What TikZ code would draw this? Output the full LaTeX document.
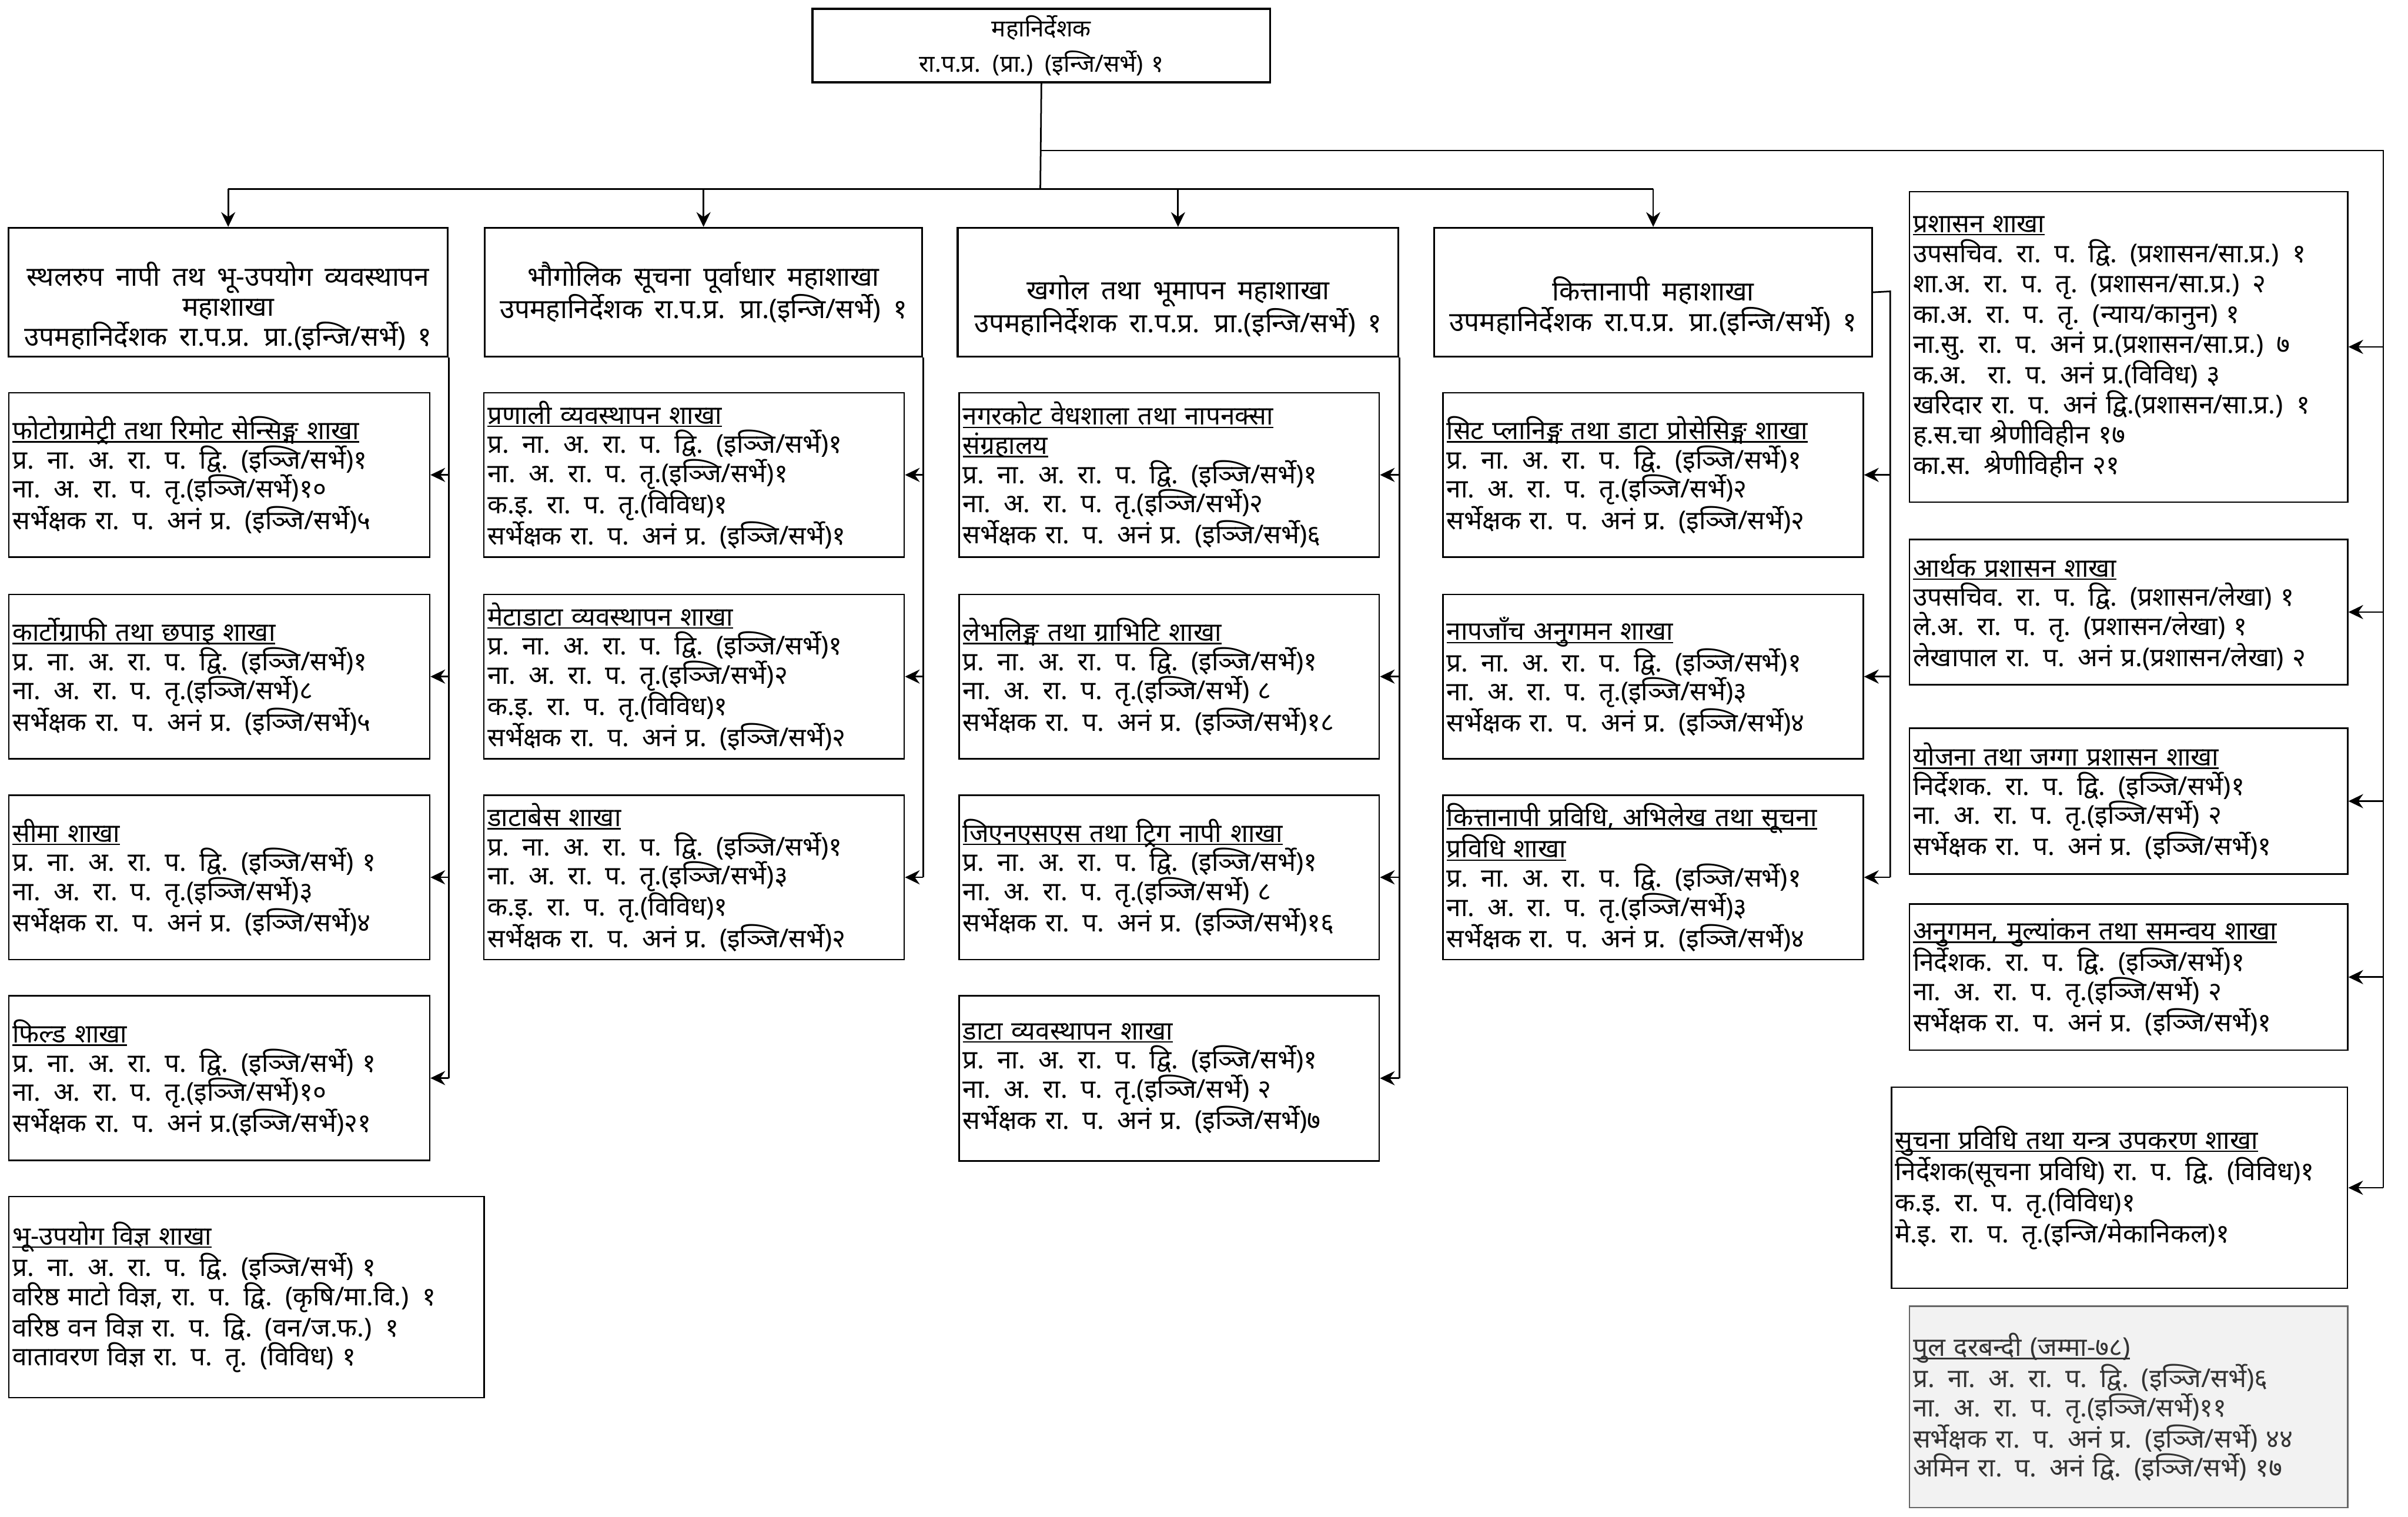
\documentclass[tikz,border=0pt]{standalone}
\usepackage{fontspec}
\setmainfont{Noto Sans}[Script=Devanagari]
\usetikzlibrary{arrows.meta}
\newsavebox\ulbox
\newcommand\ttl[1]{\leavevmode\sbox\ulbox{#1}\rlap{\rule[-0.12em]{\wd\ulbox}{0.06em}}\usebox\ulbox}
\newcommand\LI[1]{\mbox{#1}}
\newcommand\mybody{\fontsize{24}{27}\selectfont\spaceskip=0.36em\relax}
\newcommand\myrone{\fontsize{24}{28}\selectfont\spaceskip=0.36em\relax}
\newcommand\myhead{\fontsize{25}{28}\selectfont\bfseries\spaceskip=0.45em\relax}
\newcommand\mytop{\fontsize{22}{33}\selectfont}
\definecolor{poolfill}{HTML}{F2F2F2}
\definecolor{poolline}{HTML}{666666}
\definecolor{pooltext}{HTML}{333333}
\tikzset{
  sz/.style 2 args={minimum width={#1*0.05cm}, minimum height={#2*0.05cm}, text width={#1*0.05cm-0.24cm}},
  bx/.style={draw, line width=1.4pt, anchor=north west, align=left, inner xsep=0.12cm, inner ysep=0pt, font=\mybody},
  hd/.style={draw, line width=1.7pt, anchor=north west, align=center, inner xsep=0.12cm, inner ysep=0pt, font=\myhead},
  htx/.style={align=center, inner sep=0pt, font=\myhead},
  conn/.style={line width=1.5pt},
  arr/.style={line width=1.5pt, -{Stealth[length=0.48cm,width=0.46cm,inset=0.16cm]}},
}
\begin{document}
\begin{tikzpicture}[x=0.05cm,y=-0.05cm]
\useasboundingbox[fill=white] (0,0) rectangle (1568,987.45);

% top
\node[hd, sz={298}{48}, font=\mytop, line width=2pt] (top) at (528.4,5) {महानिर्देशक\\रा.प.प्र. (प्रा.) (इन्जि/सर्भे) १};

% headers
\node[hd, sz={286}{84}] (h1) at (5,147.7) {};
\node[htx] (h1t) at ([yshift=-0.45cm]h1.center) {स्थलरुप नापी तथ भू-उपयोग व्यवस्थापन\\महाशाखा\\उपमहानिर्देशक रा.प.प्र. प्रा.(इन्जि/सर्भे) १};
\node[hd, sz={285}{84}] (h2) at (315,147.7) {};
\node[htx] (h2t) at (h2.center) {भौगोलिक सूचना पूर्वाधार महाशाखा\\उपमहानिर्देशक रा.प.प्र. प्रा.(इन्जि/सर्भे) १};
\node[hd, sz={287}{84}] (h3) at (623,147.7) {};
\node[htx] (h3t) at ([yshift=-0.45cm]h3.center) {खगोल तथा भूमापन महाशाखा\\उपमहानिर्देशक रा.प.प्र. प्रा.(इन्जि/सर्भे) १};
\node[hd, sz={285}{84}] (h4) at (933.4,147.7) {};
\node[htx] (h4t) at ([yshift=-0.45cm]h4.center) {कित्तानापी महाशाखा\\उपमहानिर्देशक रा.प.प्र. प्रा.(इन्जि/सर्भे) १};

% column 1
\node[bx, sz={274}{107}] (c1a) at (5.3,255.2) {\ttl{फोटोग्रामेट्री तथा रिमोट सेन्सिङ्ग शाखा}\\\LI{प्र. ना. अ. रा. प. द्वि. (इञ्जि/सर्भे)१}\\\LI{ना. अ. रा. प. तृ.(इञ्जि/सर्भे)१०}\\\LI{सर्भेक्षक रा. प. अनं प्र. (इञ्जि/सर्भे)५}};
\node[bx, sz={274}{107}] (c1b) at (5.3,386.5) {\ttl{कार्टोग्राफी तथा छपाइ शाखा}\\\LI{प्र. ना. अ. रा. प. द्वि. (इञ्जि/सर्भे)१}\\\LI{ना. अ. रा. प. तृ.(इञ्जि/सर्भे)८}\\\LI{सर्भेक्षक रा. प. अनं प्र. (इञ्जि/सर्भे)५}};
\node[bx, sz={274}{107}] (c1c) at (5.3,517.2) {\ttl{सीमा शाखा}\\\LI{प्र. ना. अ. रा. प. द्वि. (इञ्जि/सर्भे) १}\\\LI{ना. अ. रा. प. तृ.(इञ्जि/सर्भे)३}\\\LI{सर्भेक्षक रा. प. अनं प्र. (इञ्जि/सर्भे)४}};
\node[bx, sz={274}{107}] (c1d) at (5.3,647.9) {\ttl{फिल्ड शाखा}\\\LI{प्र. ना. अ. रा. प. द्वि. (इञ्जि/सर्भे) १}\\\LI{ना. अ. रा. प. तृ.(इञ्जि/सर्भे)१०}\\\LI{सर्भेक्षक रा. प. अनं प्र.(इञ्जि/सर्भे)२१}};
\node[bx, sz={309.6}{131}] (c1e) at (5.2,778.5) {\ttl{भू-उपयोग विज्ञ शाखा}\\\LI{प्र. ना. अ. रा. प. द्वि. (इञ्जि/सर्भे) १}\\\LI{वरिष्ठ माटो विज्ञ, रा. प. द्वि. (कृषि/मा.वि.) १}\\\LI{वरिष्ठ वन विज्ञ रा. प. द्वि. (वन/ज.फ.) १}\\\LI{वातावरण विज्ञ रा. प. तृ. (विविध) १}};

% column 2
\node[bx, sz={273.7}{107}] (c2a) at (314.6,255.2) {\ttl{प्रणाली व्यवस्थापन शाखा}\\\LI{प्र. ना. अ. रा. प. द्वि. (इञ्जि/सर्भे)१}\\\LI{ना. अ. रा. प. तृ.(इञ्जि/सर्भे)१}\\\LI{क.इ. रा. प. तृ.(विविध)१}\\\LI{सर्भेक्षक रा. प. अनं प्र. (इञ्जि/सर्भे)१}};
\node[bx, sz={273.7}{107}] (c2b) at (314.6,386.5) {\ttl{मेटाडाटा व्यवस्थापन शाखा}\\\LI{प्र. ना. अ. रा. प. द्वि. (इञ्जि/सर्भे)१}\\\LI{ना. अ. रा. प. तृ.(इञ्जि/सर्भे)२}\\\LI{क.इ. रा. प. तृ.(विविध)१}\\\LI{सर्भेक्षक रा. प. अनं प्र. (इञ्जि/सर्भे)२}};
\node[bx, sz={273.7}{107}] (c2c) at (314.6,517.2) {\ttl{डाटाबेस शाखा}\\\LI{प्र. ना. अ. रा. प. द्वि. (इञ्जि/सर्भे)१}\\\LI{ना. अ. रा. प. तृ.(इञ्जि/सर्भे)३}\\\LI{क.इ. रा. प. तृ.(विविध)१}\\\LI{सर्भेक्षक रा. प. अनं प्र. (इञ्जि/सर्भे)२}};

% column 3
\node[bx, sz={273.6}{107}] (c3a) at (624,255.2) {\ttl{नगरकोट वेधशाला तथा नापनक्सा}\\\ttl{संग्रहालय}\\\LI{प्र. ना. अ. रा. प. द्वि. (इञ्जि/सर्भे)१}\\\LI{ना. अ. रा. प. तृ.(इञ्जि/सर्भे)२}\\\LI{सर्भेक्षक रा. प. अनं प्र. (इञ्जि/सर्भे)६}};
\node[bx, sz={273.6}{107}] (c3b) at (624,386.5) {\ttl{लेभलिङ्ग तथा ग्राभिटि शाखा}\\\LI{प्र. ना. अ. रा. प. द्वि. (इञ्जि/सर्भे)१}\\\LI{ना. अ. रा. प. तृ.(इञ्जि/सर्भे) ८}\\\LI{सर्भेक्षक रा. प. अनं प्र. (इञ्जि/सर्भे)१८}};
\node[bx, sz={273.6}{107}] (c3c) at (624,517.2) {\ttl{जिएनएसएस तथा ट्रिग नापी शाखा}\\\LI{प्र. ना. अ. रा. प. द्वि. (इञ्जि/सर्भे)१}\\\LI{ना. अ. रा. प. तृ.(इञ्जि/सर्भे) ८}\\\LI{सर्भेक्षक रा. प. अनं प्र. (इञ्जि/सर्भे)१६}};
\node[bx, sz={273.6}{107.6}] (c3d) at (624,647.7) {\ttl{डाटा व्यवस्थापन शाखा}\\\LI{प्र. ना. अ. रा. प. द्वि. (इञ्जि/सर्भे)१}\\\LI{ना. अ. रा. प. तृ.(इञ्जि/सर्भे) २}\\\LI{सर्भेक्षक रा. प. अनं प्र. (इञ्जि/सर्भे)७}};

% column 4
\node[bx, sz={273.7}{107}] (c4a) at (939.1,255.2) {\ttl{सिट प्लानिङ्ग तथा डाटा प्रोसेसिङ्ग शाखा}\\\LI{प्र. ना. अ. रा. प. द्वि. (इञ्जि/सर्भे)१}\\\LI{ना. अ. रा. प. तृ.(इञ्जि/सर्भे)२}\\\LI{सर्भेक्षक रा. प. अनं प्र. (इञ्जि/सर्भे)२}};
\node[bx, sz={273.7}{107}] (c4b) at (939.1,386.5) {\ttl{नापजाँच अनुगमन शाखा}\\\LI{प्र. ना. अ. रा. प. द्वि. (इञ्जि/सर्भे)१}\\\LI{ना. अ. रा. प. तृ.(इञ्जि/सर्भे)३}\\\LI{सर्भेक्षक रा. प. अनं प्र. (इञ्जि/सर्भे)४}};
\node[bx, sz={273.7}{107}] (c4c) at (939.1,517.2) {\ttl{कित्तानापी प्रविधि, अभिलेख तथा सूचना}\\\ttl{प्रविधि शाखा}\\\LI{प्र. ना. अ. रा. प. द्वि. (इञ्जि/सर्भे)१}\\\LI{ना. अ. रा. प. तृ.(इञ्जि/सर्भे)३}\\\LI{सर्भेक्षक रा. प. अनं प्र. (इञ्जि/सर्भे)४}};

% right column
\node[bx, sz={285.4}{202.1}, font=\myrone] (r1) at (1242.8,124.3) {\ttl{प्रशासन शाखा}\\\LI{उपसचिव. रा. प. द्वि. (प्रशासन/सा.प्र.) १}\\\LI{शा.अ. रा. प. तृ. (प्रशासन/सा.प्र.) २}\\\LI{का.अ. रा. प. तृ. (न्याय/कानुन) १}\\\LI{ना.सु. रा. प. अनं प्र.(प्रशासन/सा.प्र.) ७}\\\LI{क.अ.~ रा. प. अनं प्र.(विविध) ३}\\\LI{खरिदार रा. प. अनं द्वि.(प्रशासन/सा.प्र.) १}\\\LI{ह.स.चा श्रेणीविहीन १७}\\\LI{का.स. श्रेणीविहीन २१}};
\node[bx, sz={285.4}{94.6}] (r2) at (1242.8,350.7) {\ttl{आर्थक प्रशासन शाखा}\\\LI{उपसचिव. रा. प. द्वि. (प्रशासन/लेखा) १}\\\LI{ले.अ. रा. प. तृ. (प्रशासन/लेखा) १}\\\LI{लेखापाल रा. प. अनं प्र.(प्रशासन/लेखा) २}};
\node[bx, sz={285.4}{94.8}] (r3) at (1242.8,473.7) {\ttl{योजना तथा जग्गा प्रशासन शाखा}\\\LI{निर्देशक. रा. प. द्वि. (इञ्जि/सर्भे)१}\\\LI{ना. अ. रा. प. तृ.(इञ्जि/सर्भे) २}\\\LI{सर्भेक्षक रा. प. अनं प्र. (इञ्जि/सर्भे)१}};
\node[bx, sz={285.4}{95.1}] (r4) at (1242.8,588.1) {\ttl{अनुगमन, मुल्यांकन तथा समन्वय शाखा}\\\LI{निर्देशक. रा. प. द्वि. (इञ्जि/सर्भे)१}\\\LI{ना. अ. रा. प. तृ.(इञ्जि/सर्भे) २}\\\LI{सर्भेक्षक रा. प. अनं प्र. (इञ्जि/सर्भे)१}};
\node[bx, sz={297}{130.8}] (r5) at (1231.1,707.4) {\ttl{सुचना प्रविधि तथा यन्त्र उपकरण शाखा}\\\LI{निर्देशक(सूचना प्रविधि) रा. प. द्वि. (विविध)१}\\\LI{क.इ. रा. प. तृ.(विविध)१}\\\LI{मे.इ. रा. प. तृ.(इन्जि/मेकानिकल)१}};
\node[bx, sz={285.4}{131}, fill=poolfill, draw=poolline, text=pooltext] (pool) at (1242.8,850) {\ttl{पुल दरबन्दी (जम्मा-७८)}\\\LI{प्र. ना. अ. रा. प. द्वि. (इञ्जि/सर्भे)६}\\\LI{ना. अ. रा. प. तृ.(इञ्जि/सर्भे)११}\\\LI{सर्भेक्षक रा. प. अनं प्र. (इञ्जि/सर्भे) ४४}\\\LI{अमिन रा. प. अनं द्वि. (इञ्जि/सर्भे) १७}};

% connectors
\coordinate (bus) at (677.4,123);
\coordinate (rt) at (1551.9,98);
\coordinate (t4) at (1230.8,189.7);
\draw[conn] (top.south) -- (bus);
\draw[conn] (h1.north |- bus) -- (h4.north |- bus);
\foreach \h in {h1,h2,h3,h4} \draw[arr] (\h.north |- bus) -- (\h.north);
\draw[conn] (top.south |- rt) -- (rt) -- (rt |- r5.east);
\foreach \r in {r1,r2,r3,r4,r5} \draw[arr] (rt |- \r.east) -- (\r.east);
\draw[conn] (h1.south east) -- (h1.east |- c1d.east);
\foreach \b in {c1a,c1b,c1c,c1d} \draw[arr] (h1.east |- \b.east) -- (\b.east);
\draw[conn] (h2.south east) -- (h2.east |- c2c.east);
\foreach \b in {c2a,c2b,c2c} \draw[arr] (h2.east |- \b.east) -- (\b.east);
\draw[conn] (h3.south east) -- (h3.east |- c3d.east);
\foreach \b in {c3a,c3b,c3c,c3d} \draw[arr] (h3.east |- \b.east) -- (\b.east);
\draw[conn] (h4.east) -- (t4) -- (t4 |- c4c.east);
\foreach \b in {c4a,c4b,c4c} \draw[arr] (t4 |- \b.east) -- (\b.east);
\end{tikzpicture}
\end{document}
